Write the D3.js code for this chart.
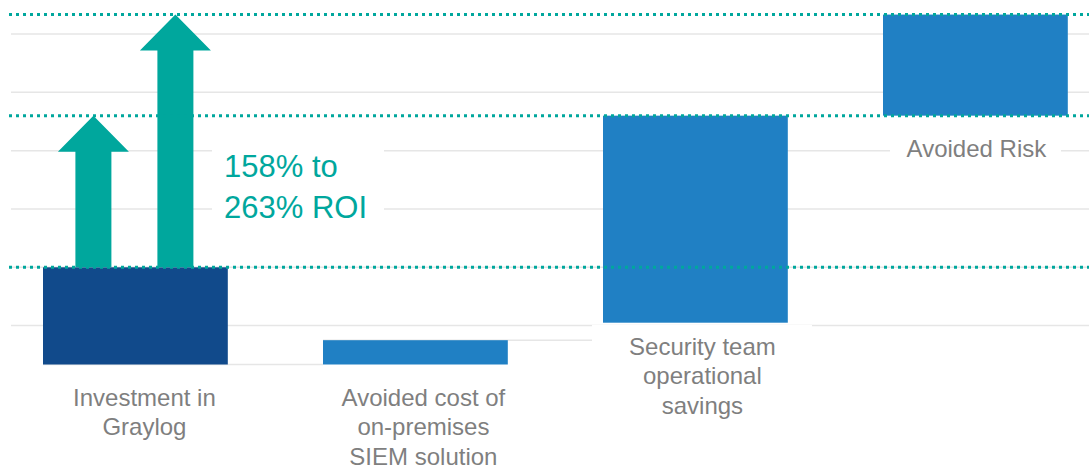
<!DOCTYPE html>
<html>
<head>
<meta charset="utf-8">
<script src="https://cdn.jsdelivr.net/npm/d3@7"></script>
<style>
  body { margin: 0; background: #fff; }
  svg { display: block; font-family: "Liberation Sans", Arial, sans-serif; }
</style>
</head>
<body>
<svg id="chart" width="1089" height="469"></svg>
<script>
// waterfall steps (start, end) in multiples of the investment
const categories = ["Investment in Graylog", "Avoided cost of on-premises SIEM solution", "Security team operational savings", "Avoided Risk"];
const labelLines = [["Investment in", "Graylog"], ["Avoided cost of", "on-premises", "SIEM solution"], ["Security team", "operational", "savings"], ["Avoided Risk"]];
const barStart = [0, 0, 0.43, 2.56];
const barEnd = [1.0, 0.25, 2.56, 3.60];
const gridValues = [0.4, 1.0, 1.6, 2.2, 2.8, 3.4];
const roiLevels = [1.0, 2.56, 3.60];
const roiText = ["158% to", "263% ROI"];

const width = 1089, height = 469;
const svg = d3.select("#chart");

const x = d3.scaleBand()
    .domain(categories)
    .range([-4.6, 1115.4])
    .paddingInner(0.34)
    .paddingOuter(0.17);

const y = d3.scaleLinear()
    .domain([0, 3.75])
    .range([364.5, 0]);

const teal = "#00a79d";
const gray = "#7f7f7f";
const barColours = ["#114a8b", "#2080c4", "#2080c4", "#2080c4"];

// gridlines
svg.append("g")
    .selectAll("line")
    .data(gridValues)
    .join("line")
    .attr("x1", 11)
    .attr("x2", width)
    .attr("y1", d => y(d))
    .attr("y2", d => y(d))
    .attr("stroke", "#e6e6e6")
    .attr("stroke-width", 1.5);

// waterfall connectors
const connectors = [
    { from: 0, to: 1, v: barStart[0] },
    { from: 1, to: 2, v: barEnd[1] }
];
svg.append("g")
    .selectAll("line")
    .data(connectors)
    .join("line")
    .attr("x1", d => x(categories[d.from]))
    .attr("x2", d => x(categories[d.to]))
    .attr("y1", d => y(d.v))
    .attr("y2", d => y(d.v))
    .attr("stroke", "#e6e6e6")
    .attr("stroke-width", 1.5);

// white boxes behind text (they knock out the gridlines)
const boxes = [
    { x: 212, y: 125, w: 172, h: 130 },
    { x: 592, y: 325, w: 220, h: 100 },
    { x: 890, y: 135, w: 171, h: 30 }
];
svg.append("g")
    .selectAll("rect")
    .data(boxes)
    .join("rect")
    .attr("x", d => d.x)
    .attr("y", d => d.y)
    .attr("width", d => d.w)
    .attr("height", d => d.h)
    .attr("fill", "#fff");

// bars
svg.append("g")
    .selectAll("rect")
    .data(categories)
    .join("rect")
    .attr("x", d => x(d))
    .attr("width", x.bandwidth())
    .attr("y", (d, i) => y(barEnd[i]))
    .attr("height", (d, i) => y(barStart[i]) - y(barEnd[i]))
    .attr("fill", (d, i) => barColours[i]);

// ROI arrows
const arrowCentre = x(categories[0]) + x.bandwidth() / 2;
const arrows = [
    { cx: arrowCentre - 42, from: roiLevels[0], to: roiLevels[1] },
    { cx: arrowCentre + 40, from: roiLevels[0], to: roiLevels[2] }
];
const shaftHalf = 18, headHalf = 35.5, headH = 36;
svg.append("g")
    .selectAll("path")
    .data(arrows)
    .join("path")
    .attr("fill", teal)
    .attr("d", a => {
        const yb = y(a.from), yt = y(a.to), yh = yt + headH;
        return `M${a.cx - shaftHalf},${yb}V${yh}H${a.cx - headHalf}L${a.cx},${yt}L${a.cx + headHalf},${yh}H${a.cx + shaftHalf}V${yb}Z`;
    });

// dotted ROI levels, on top of the bars
svg.append("g")
    .selectAll("line")
    .data(roiLevels)
    .join("line")
    .attr("x1", 9)
    .attr("x2", width)
    .attr("y1", d => y(d))
    .attr("y2", d => y(d))
    .attr("stroke", teal)
    .attr("stroke-width", 3)
    .attr("stroke-dasharray", "3,4");

// ROI text
svg.append("text")
    .attr("x", 224)
    .attr("fill", teal)
    .attr("font-size", 31)
    .selectAll("tspan")
    .data(roiText)
    .join("tspan")
    .attr("x", 224)
    .attr("y", (d, i) => 177 + i * 41)
    .text(d => d);

// category labels
const labelDx = [9, 8, 7, 1];
const labelDy = [41, 41, 32, 41];
svg.append("g")
    .selectAll("text")
    .data(categories)
    .join("text")
    .attr("text-anchor", "middle")
    .attr("fill", gray)
    .attr("font-size", 24)
    .each(function(d, i) {
        const cx = x(d) + x.bandwidth() / 2 + labelDx[i];
        const top = y(barStart[i]) + labelDy[i];
        d3.select(this).selectAll("tspan")
            .data(labelLines[i])
            .join("tspan")
            .attr("x", cx)
            .attr("y", (t, j) => top + j * 29.5)
            .text(t => t);
    });
</script>
</body>
</html>
